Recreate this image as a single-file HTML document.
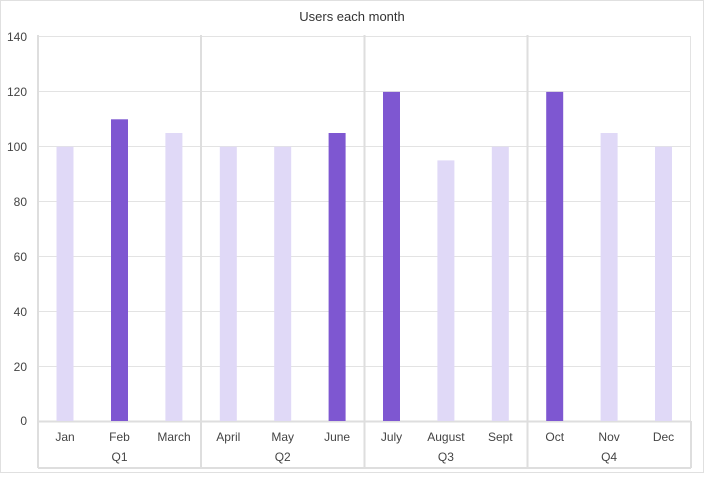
<!DOCTYPE html>
<html><head><style>
body{margin:0;background:#fff}
svg text{font-family:"Liberation Sans",Arial,sans-serif}
</style></head><body>
<svg width="704" height="473" xmlns="http://www.w3.org/2000/svg">
<rect x="0.5" y="0.5" width="703" height="472" fill="#fff" stroke="#e0e0e0"/>
<text x="352" y="21" font-size="13" fill="#333" text-anchor="middle">Users each month</text>
<g stroke="#e3e3e3" stroke-width="1">
<line x1="38" y1="36.5" x2="691" y2="36.5"/>
<line x1="38" y1="91.5" x2="691" y2="91.5"/>
<line x1="38" y1="146.5" x2="691" y2="146.5"/>
<line x1="38" y1="201.5" x2="691" y2="201.5"/>
<line x1="38" y1="256.5" x2="691" y2="256.5"/>
<line x1="38" y1="311.5" x2="691" y2="311.5"/>
<line x1="38" y1="366.5" x2="691" y2="366.5"/>
<line x1="690.5" y1="36" x2="690.5" y2="421"/>
</g>
<g stroke="#dedede" stroke-width="2">
<line x1="38" y1="35" x2="38" y2="468"/>
<line x1="201" y1="35" x2="201" y2="468"/>
<line x1="364.5" y1="35" x2="364.5" y2="468"/>
<line x1="527.5" y1="35" x2="527.5" y2="468"/>
<line x1="691" y1="421" x2="691" y2="468"/>
<line x1="38" y1="421.5" x2="691" y2="421.5"/>
<line x1="38" y1="468" x2="691" y2="468"/>
</g>
<g font-size="12" fill="#444" text-anchor="end">
<text x="27" y="41">140</text><text x="27" y="96">120</text><text x="27" y="151">100</text>
<text x="27" y="206">80</text><text x="27" y="261">60</text><text x="27" y="316">40</text>
<text x="27" y="371">20</text><text x="27" y="425">0</text>
</g>
<g>
<rect x="56.5" y="146.7" width="17" height="274.3" fill="#e0d9f7"/>
<rect x="111" y="119.3" width="17" height="301.7" fill="#7e57d1"/>
<rect x="165.4" y="133" width="17" height="288" fill="#e0d9f7"/>
<rect x="219.8" y="146.7" width="17" height="274.3" fill="#e0d9f7"/>
<rect x="274.2" y="146.7" width="17" height="274.3" fill="#e0d9f7"/>
<rect x="328.6" y="133" width="17" height="288" fill="#7e57d1"/>
<rect x="383" y="91.9" width="17" height="329.1" fill="#7e57d1"/>
<rect x="437.4" y="160.4" width="17" height="260.6" fill="#e0d9f7"/>
<rect x="491.8" y="146.7" width="17" height="274.3" fill="#e0d9f7"/>
<rect x="546.2" y="91.9" width="17" height="329.1" fill="#7e57d1"/>
<rect x="600.6" y="133" width="17" height="288" fill="#e0d9f7"/>
<rect x="655" y="146.7" width="17" height="274.3" fill="#e0d9f7"/>
</g>
<g font-size="12" fill="#444" text-anchor="middle">
<text x="65" y="441">Jan</text><text x="119.5" y="441">Feb</text><text x="174" y="441">March</text>
<text x="228.3" y="441">April</text><text x="282.7" y="441">May</text><text x="337.1" y="441">June</text>
<text x="391.5" y="441">July</text><text x="445.9" y="441">August</text><text x="500.3" y="441">Sept</text>
<text x="554.7" y="441">Oct</text><text x="609.1" y="441">Nov</text><text x="663.5" y="441">Dec</text>
<text x="119.5" y="461">Q1</text><text x="282.7" y="461">Q2</text><text x="445.9" y="461">Q3</text><text x="609.1" y="461">Q4</text>
</g>
</svg>
</body></html>
